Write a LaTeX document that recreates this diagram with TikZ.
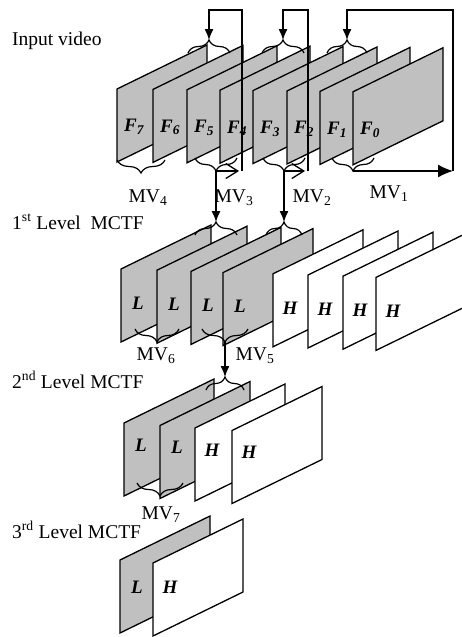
\documentclass[tikz,border=0pt]{standalone}
\usepackage{fontspec}
\setmainfont{Liberation Serif}
\usetikzlibrary{arrows.meta,decorations.pathreplacing}

\definecolor{framegray}{RGB}{192,192,192}

% one video frame: name, x, y, fill style, label, label drop
\newcommand\vframe[6]{%
  \draw[frame,#4] (#2,#3) coordinate (#1) -- ++(90,-44) -- ++(0,73) -- ++(-90,44) -- cycle;
  \node[flabel] (#1-lab) at ([shift={(17,#6)}]#1) {#5};
}

\begin{document}
\begin{tikzpicture}[x=1pt,y=-1pt,
  frame/.style={line width=1.3pt},
  lofr/.style={fill=framegray},
  hifr/.style={fill=white},
  flabel/.style={font=\fontsize{19}{21}\selectfont\bfseries\itshape,inner sep=0pt},
  mvlabel/.style={font=\fontsize{19.5}{21}\selectfont,inner sep=0pt},
  lvlabel/.style={font=\fontsize{19.5}{21}\selectfont,anchor=west,inner sep=0pt},
  upbrace/.style={decorate,decoration={brace,amplitude=13pt},line width=1.2pt},
  dnbrace/.style={decorate,decoration={brace,amplitude=13pt,mirror},line width=1.2pt},
  link/.style={line width=1.3pt},
  down/.style={link,-{Latex[length=11pt,width=9pt]}},
  barb/.style={link,-{Straight Barb[length=12pt,width=15pt]}}]
  \useasboundingbox (0,0) rectangle (462,637);

  % input video
  \node[lvlabel] (inlab) at (12,41) {Input video};
  \foreach \x/\n [count=\i from 0] in {117/7,153/6,187/5,220/4,253/3,287/2,320/1,353/0}
    \vframe{f\n}{\x}{89+0.4*\i}{lofr}{F\textsubscript{\n}}{38};

  \draw[upbrace] (188,53) -- (230,53);
  \draw[upbrace] (262,53) -- (304,53);
  \draw[upbrace] (327,53) -- (367,53);
  \coordinate (t1) at (209,40);
  \coordinate (t2) at (283,40);
  \coordinate (t3) at (347,40);

  \draw[dnbrace] (117,160) -- (165,160);
  \draw[dnbrace] (195,158) -- (237,158);
  \draw[dnbrace] (263,158) -- (305,158);
  \draw[dnbrace] (332,158) -- (374,158);
  \coordinate (b3) at (216,171);
  \coordinate (b2) at (284,171);
  \coordinate (b1) at (353,171);

  \coordinate (r1) at (242,171);
  \coordinate (r2) at (308,171);
  \coordinate (r3) at (453,171);
  \draw[barb] (b3) -- ([xshift=-3pt]r1);
  \draw[barb] (b2) -- ([xshift=-3pt]r2);
  \draw[link,-{Latex[length=15pt,width=13pt]}] (b1) -- (r3);
  \draw[down] (r1) -- (242,10) -- (209,10) -- (t1);
  \draw[down] (r2) -- (308,10) -- (283,10) -- (t2);
  \draw[down] (r3) -- (453,10) -- (347,10) -- (t3);

  \node[mvlabel] (mv4) at (148,198) {MV\textsubscript{4}};
  \node[mvlabel] (mv3) at (234,198) {MV\textsubscript{3}};
  \node[mvlabel] (mv2) at (312,198) {MV\textsubscript{2}};
  \node[mvlabel] (mv1) at (389,194) {MV\textsubscript{1}};

  % first level
  \node[lvlabel] (lv1) at (12,222) {1\textsuperscript{st} Level\ \ MCTF};
  \foreach \x/\s/\t [count=\i from 0] in {121/lofr/L,157/lofr/L,191/lofr/L,223/lofr/L,
      273/hifr/H,308/hifr/H,343/hifr/H,376/hifr/H}
    \vframe{a\i}{\x}{269+1.2*\i}{\s}{\t}{34};

  \draw[upbrace] (195,235) -- (237,235);
  \draw[upbrace] (266,235) -- (302,235);
  \coordinate (u1) at (216,222);
  \coordinate (u2) at (284,222);
  \draw[down] (b3) -- (u1);
  \draw[down] (b2) -- (u2);

  \draw[dnbrace] (135,329) -- (179,329);
  \draw[dnbrace] (202,329) -- (248,329);
  \coordinate (c5) at (225,342);
  \node[mvlabel] (mv6) at (156,356) {MV\textsubscript{6}};
  \node[mvlabel] (mv5) at (255,356) {MV\textsubscript{5}};

  % second level
  \node[lvlabel] (lv2) at (12,380) {2\textsuperscript{nd} Level MCTF};
  \foreach \x/\s/\t [count=\i from 0] in {124/lofr/L,160/lofr/L,195/hifr/H,232/hifr/H}
    \vframe{b\i}{\x}{423+2.5*\i}{\s}{\t}{22};

  \draw[upbrace] (206,390) -- (244,390);
  \coordinate (u5) at (225,377);
  \draw[down] (c5) -- (u5);

  \draw[dnbrace] (137,483) -- (183,483);
  \node[mvlabel] (mv7) at (161,515) {MV\textsubscript{7}};

  % third level
  \node[lvlabel] (lv3) at (12,530) {3\textsuperscript{rd} Level MCTF};
  \vframe{c0}{120}{560}{lofr}{L}{27};
  \vframe{c1}{153}{563}{hifr}{H}{24};
\end{tikzpicture}
\end{document}
